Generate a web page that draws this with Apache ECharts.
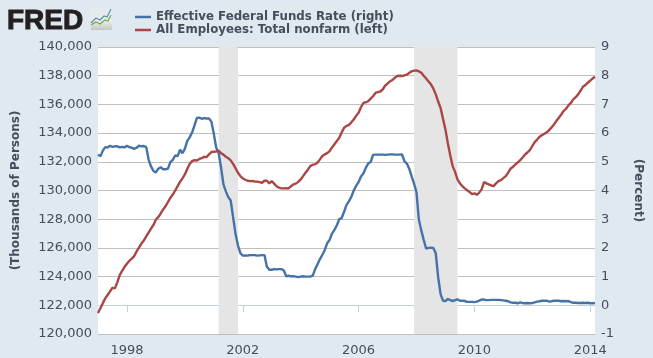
<!DOCTYPE html>
<html>
<head>
<meta charset="utf-8">
<style>
  html, body { margin: 0; padding: 0; background: #e0e8f0; }
  #chart { width: 653px; height: 358px; }
</style>
<script src="https://cdn.jsdelivr.net/npm/echarts@6/dist/echarts.min.js"></script>
</head>
<body>
<div id="chart"></div>
<script>
// monthly, Jan 1997 - Mar 2014
const months = []
for (let y = 1997; y <= 2014; y++) {
  for (let m = 1; m <= 12; m++) {
    if (y === 2014 && m > 3) break
    months.push(y + '-' + String(m).padStart(2, '0'))
  }
}

const fedFunds = [
  5.25, 5.19, 5.39, 5.51, 5.50, 5.56, 5.52, 5.54, 5.54, 5.50, 5.52, 5.50,
  5.56, 5.51, 5.49, 5.45, 5.49, 5.56, 5.54, 5.55, 5.51, 5.07, 4.83, 4.68,
  4.63, 4.76, 4.81, 4.74, 4.74, 4.76, 4.99, 5.07, 5.22, 5.20, 5.42, 5.30,
  5.45, 5.73, 5.85, 6.02, 6.27, 6.53, 6.54, 6.50, 6.52, 6.51, 6.51, 6.40,
  5.98, 5.49, 5.31, 4.80, 4.21, 3.97, 3.77, 3.65, 3.07, 2.49, 2.09, 1.82,
  1.73, 1.74, 1.73, 1.75, 1.75, 1.75, 1.73, 1.74, 1.75, 1.75, 1.34, 1.24,
  1.24, 1.26, 1.25, 1.26, 1.26, 1.22, 1.01, 1.03, 1.01, 1.01, 1.00, 0.98,
  1.00, 1.01, 1.00, 1.00, 1.00, 1.03, 1.26, 1.43, 1.61, 1.76, 1.93, 2.16,
  2.28, 2.50, 2.63, 2.79, 3.00, 3.04, 3.26, 3.50, 3.62, 3.78, 4.00, 4.16,
  4.29, 4.49, 4.59, 4.79, 4.94, 4.99, 5.24, 5.25, 5.25, 5.25, 5.25, 5.24,
  5.25, 5.26, 5.26, 5.25, 5.25, 5.25, 5.26, 5.02, 4.94, 4.76, 4.49, 4.24,
  3.94, 2.98, 2.61, 2.28, 1.98, 2.00, 2.01, 2.00, 1.81, 0.97, 0.39, 0.16,
  0.15, 0.22, 0.18, 0.15, 0.18, 0.21, 0.16, 0.16, 0.15, 0.12, 0.12, 0.12,
  0.11, 0.13, 0.16, 0.20, 0.20, 0.18, 0.18, 0.19, 0.19, 0.19, 0.19, 0.18,
  0.17, 0.16, 0.14, 0.10, 0.09, 0.09, 0.07, 0.10, 0.08, 0.07, 0.08, 0.07,
  0.08, 0.10, 0.13, 0.14, 0.16, 0.16, 0.16, 0.13, 0.14, 0.16, 0.16, 0.16,
  0.14, 0.15, 0.14, 0.15, 0.11, 0.09, 0.09, 0.08, 0.08, 0.09, 0.08, 0.09,
  0.07, 0.07, 0.08
]

const nonfarm = [
  121460, 121800, 122150, 122480, 122720, 122970, 123220, 123180, 123600, 124100, 124400, 124680,
  124900, 125100, 125250, 125430, 125750, 126020, 126300, 126520, 126800, 127080, 127350, 127600,
  127980, 128150, 128400, 128680, 128900, 129200, 129490, 129720, 130000, 130300, 130600, 130850,
  131120, 131500, 131850, 132050, 132120, 132090, 132200, 132260, 132340, 132330, 132520, 132680,
  132700, 132720, 132770, 132600, 132500, 132350, 132250, 132100, 131850, 131550, 131250, 131000,
  130850, 130750, 130680, 130650, 130670, 130620, 130620, 130580, 130540, 130680, 130680, 130500,
  130650, 130480, 130300, 130200, 130150, 130150, 130160, 130150, 130300, 130420, 130480, 130600,
  130770, 131000, 131240, 131450, 131700, 131800, 131820, 131950, 132170, 132400, 132520, 132600,
  132750, 133000, 133220, 133450, 133680, 134050, 134370, 134500, 134560, 134750, 134950, 135200,
  135420, 135800, 136100, 136150, 136220, 136400, 136570, 136800, 136850, 136900, 137040, 137300,
  137450, 137600, 137700, 137850, 137980, 138000, 137980, 138020, 138070, 138200, 138300, 138350,
  138370, 138300, 138210, 138000, 137800, 137600, 137400, 137100, 136700, 136200, 135750, 135000,
  134260, 133300, 132450, 131700, 131300, 130780, 130500, 130300, 130150, 130020, 129900, 129750,
  129800, 129700, 129850, 130080, 130590, 130500, 130420, 130350, 130300, 130500, 130650, 130720,
  130860, 131000, 131240, 131520, 131650, 131820, 131950, 132120, 132300, 132510, 132650, 132810,
  133100, 133370, 133550, 133740, 133850, 133950, 134050, 134210, 134400, 134600, 134850, 135070,
  135300, 135540, 135700, 135930, 136100, 136350, 136500, 136700, 136950, 137230, 137350, 137510,
  137650, 137800, 137930
]

const recessions = [['2001-03', '2001-11'], ['2007-12', '2009-06']]

const textColor = '#464e5c'
const labelFont = '"DejaVu Sans", Verdana, sans-serif'

// every 4 years, starting Jan 1998
const isYearTick = (idx) => idx >= 12 && (idx - 12) % 48 === 0

const chart = echarts.init(document.getElementById('chart'))

chart.setOption({
  animation: false,
  backgroundColor: '#e0e8f0',
  legend: {
    orient: 'vertical',
    left: 130,
    top: 6,
    itemGap: 1,
    itemWidth: 16,
    itemHeight: 14,
    icon: 'path://M0 6 H16 V8.5 H0 Z',
    selectedMode: false,
    textStyle: { color: textColor, fontFamily: labelFont, fontWeight: 'bold', fontSize: 11.8, padding: [0, 0, 0, 0] },
    data: ['Effective Federal Funds Rate (right)', 'All Employees: Total nonfarm (left)']
  },
  grid: {
    left: 98, right: 58, top: 47, bottom: 24,
    outerBoundsMode: 'none',
    backgroundColor: '#fff', show: true, borderWidth: 0
  },
  xAxis: {
    type: 'category',
    data: months,
    boundaryGap: false,
    axisLine: { lineStyle: { color: '#c0d0e0' } },
    axisTick: { length: 7, interval: isYearTick, lineStyle: { color: '#c0d0e0' } },
    axisLabel: {
      interval: isYearTick,
      formatter: (v) => v.slice(0, 4),
      color: textColor,
      fontFamily: labelFont,
      fontSize: 13,
      margin: 10,
      hideOverlap: false
    }
  },
  yAxis: [
    {
      type: 'value',
      min: 120000,
      max: 140000,
      interval: 2000,
      name: '(Thousands of Persons)',
      nameLocation: 'middle',
      nameGap: 70,
      nameTextStyle: { color: textColor, fontFamily: labelFont, fontWeight: 'bold', fontSize: 12, padding: [0, 0, 6, 0] },
      axisLine: { show: false },
      axisTick: { show: false },
      axisLabel: {
        formatter: (v) => v.toLocaleString('en-US'),
        color: textColor,
        fontFamily: labelFont,
        fontSize: 13,
        margin: 6,
        padding: [7, 0, 0, 0]
      },
      splitLine: { lineStyle: { color: '#c0c0c0' } }
    },
    {
      type: 'value',
      min: -1,
      max: 9,
      interval: 1,
      name: '(Percent)',
      nameLocation: 'middle',
      nameGap: 37,
      nameRotate: -90,
      nameTextStyle: { color: textColor, fontFamily: labelFont, fontWeight: 'bold', fontSize: 12 },
      axisLine: { show: false },
      axisTick: { show: false },
      axisLabel: { color: textColor, fontFamily: labelFont, fontSize: 13, margin: 6, padding: [7, 0, 0, 0] },
      splitLine: { show: false }
    }
  ],
  series: [
    {
      name: 'Effective Federal Funds Rate (right)',
      type: 'line',
      yAxisIndex: 1,
      data: fedFunds,
      symbol: 'none',
      z: 3,
      itemStyle: { color: '#4572a7' },
      lineStyle: { width: 2.4, color: '#4572a7' },
      markArea: {
        silent: true,
        itemStyle: { color: '#e5e5e5' },
        data: recessions.map(([a, b]) => [{ xAxis: a }, { xAxis: b }])
      }
    },
    {
      name: 'All Employees: Total nonfarm (left)',
      type: 'line',
      yAxisIndex: 0,
      data: nonfarm,
      symbol: 'none',
      z: 4,
      itemStyle: { color: '#aa4643' },
      lineStyle: { width: 2.4, color: '#aa4643' }
    }
  ],
  graphic: [
    {
      type: 'text',
      x: 7,
      y: 7,
      style: { text: 'FRED', fill: '#231f20', stroke: '#231f20', lineWidth: 1, font: 'bold 28px "Liberation Sans", Arial, sans-serif' }
    },
    {
      type: 'rect',
      shape: { x: 91, y: 8, width: 21, height: 22 },
      style: {
        fill: new echarts.graphic.LinearGradient(0, 0, 0, 1, [
          { offset: 0, color: '#e4eaee' },
          { offset: 0.6, color: '#e8ecea' },
          { offset: 1, color: '#c4c6c0' }
        ])
      }
    },
    {
      type: 'polyline',
      shape: { points: [[91, 23], [96, 18], [100, 20], [104, 16], [107, 17], [111, 9]] },
      style: { stroke: '#5d8fb5', fill: 'none', lineWidth: 1.2 }
    },
    {
      type: 'polyline',
      shape: { points: [[91, 25], [96, 22], [100, 24], [105, 20], [108, 21], [111, 15]] },
      style: { stroke: '#7da84a', fill: 'none', lineWidth: 1.2 }
    }
  ]
})
</script>
</body>
</html>
